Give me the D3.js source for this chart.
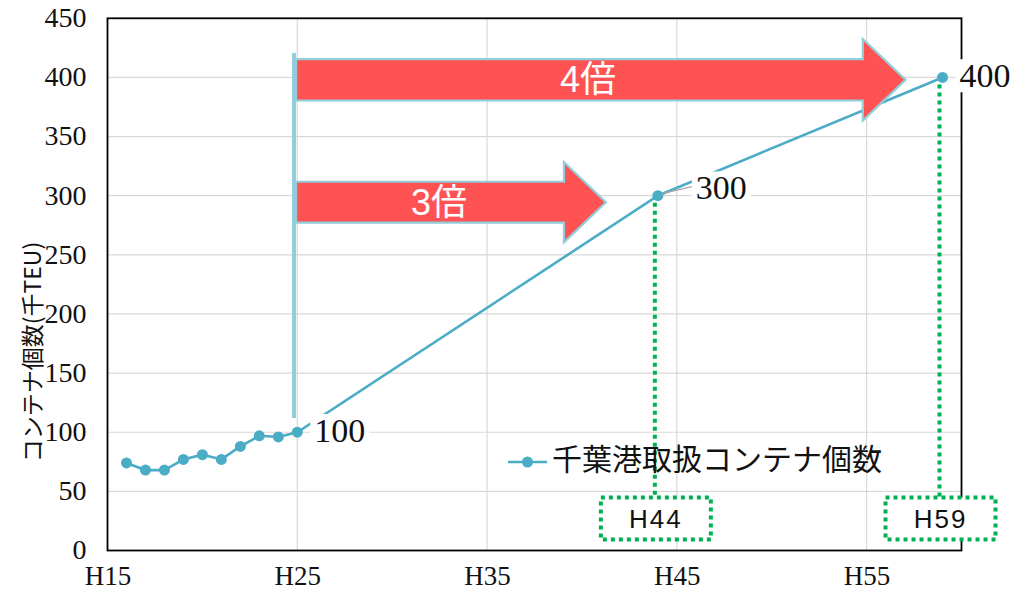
<!DOCTYPE html>
<html><head><meta charset="utf-8">
<script src="https://cdn.jsdelivr.net/npm/d3@7"></script>
<style>body{margin:0;background:#fff}</style>
</head><body>
<svg id="c" width="1031" height="592"></svg>
<script>
// ---- data ----
const years = [16,17,18,19,20,21,22,23,24,25,44,59];
const values = [74,68,68,77,81,77,88,97,96,100,300,400];
const yTicks = [0,50,100,150,200,250,300,350,400,450];
const xTicks = [15,25,35,45,55];
const xTickLabels = ["H15","H25","H35","H45","H55"];
const labelYears = [25,44,59];
const labelTexts = ["100","300","400"];
const seriesName = "千葉港取扱コンテナ個数";
const yTitle = "コンテナ個数(千TEU)";
// annotation arrows (data units)
const arrowX0 = [24.83, 24.83];
const arrowHeadX = [54.8, 39.05];
const arrowTipX = [57.05, 41.26];
const arrowTipY = [398, 294.5];
const arrowBodyHalf = [17.5, 17.3];
const arrowHeadHalf = [34.5, 34.0];
const arrowText = ["4倍","3倍"];
const targetYears = [44,59];
const targetLabels = ["H44","H59"];

const svg = d3.select("#c");
const x = d3.scaleLinear().domain([15,60]).range([107.5,961.5]);
const y = d3.scaleLinear().domain([0,450]).range([550.5,18.3]);
const serif = "'Liberation Serif','Times New Roman',serif";
const jp = "'Noto Sans CJK JP','Noto Sans',sans-serif";
const sans = "'Liberation Sans',Arial,'Noto Sans CJK JP',sans-serif";
const lineColor = "#4bacc6";

// grid
svg.append("g").selectAll("line").data(yTicks.filter(d=>d>0&&d<450)).join("line")
  .attr("x1",x(15)).attr("x2",x(60)).attr("y1",d=>y(d)).attr("y2",d=>y(d))
  .attr("stroke","#d9d9d9").attr("stroke-width",1.2);
svg.append("g").selectAll("line").data(xTicks.filter(d=>d>15)).join("line")
  .attr("x1",d=>x(d)).attr("x2",d=>x(d)).attr("y1",y(0)).attr("y2",y(450))
  .attr("stroke","#d9d9d9").attr("stroke-width",1.2);

// frame
svg.append("rect").attr("x",x(15)).attr("y",y(450)).attr("width",x(60)-x(15)).attr("height",y(0)-y(450))
  .attr("fill","none").attr("stroke","#000").attr("stroke-width",1.8);

// axes labels
const yAxis = d3.axisLeft(y).tickValues(yTicks).tickSize(0).tickPadding(21);
const ga = svg.append("g").attr("transform",`translate(${x(15)},0)`).call(yAxis);
ga.select(".domain").remove();
ga.selectAll("text").attr("font-family",serif).attr("font-size",28).attr("fill","#111").attr("dy","0.3em");
const xAxis = d3.axisBottom(x).tickValues(xTicks).tickFormat((d,i)=>xTickLabels[i]).tickSize(0).tickPadding(15);
const gx = svg.append("g").attr("transform",`translate(0,${y(0)})`).call(xAxis);
gx.select(".domain").remove();
gx.selectAll("text").attr("font-family",serif).attr("font-size",27).attr("fill","#111");

svg.append("text").attr("transform",`translate(35,352) rotate(-90)`)
  .attr("text-anchor","middle").attr("dominant-baseline","middle")
  .attr("font-family",jp).attr("font-size",23).attr("fill","#111").text(yTitle);

// series
const pts = years.map((d,i)=>[d,values[i]]);
svg.append("path").datum(pts).attr("fill","none").attr("stroke",lineColor).attr("stroke-width",2.6)
  .attr("d",d3.line().x(d=>x(d[0])).y(d=>y(d[1])));
svg.append("g").selectAll("circle").data(pts).join("circle")
  .attr("cx",d=>x(d[0])).attr("cy",d=>y(d[1])).attr("r",5.5).attr("fill",lineColor);

// leader line for 300
svg.append("line").attr("x1",x(44)+4).attr("y1",y(300)-2).attr("x2",x(44)+34).attr("y2",y(300)-9)
  .attr("stroke","#a6a6a6").attr("stroke-width",1.2);

// data labels with white background
const labelOffsets = [17, 38, 17];
labelYears.forEach((yr,i)=>{
  const v = values[years.indexOf(yr)];
  const lx = x(yr)+labelOffsets[i], ly = y(v)+2 - (i==1?6:0);
  const g = svg.append("g");
  const t = g.append("text").attr("x",lx).attr("y",ly).attr("dominant-baseline","middle")
    .attr("font-family",serif).attr("font-size",34).attr("fill","#111").text(labelTexts[i]);
  const bb = t.node().getBBox();
  g.insert("rect","text").attr("x",bb.x-4).attr("y",bb.y+2).attr("width",bb.width+8).attr("height",bb.height-4).attr("fill","#fff");
});

// vertical light blue line
svg.append("line").attr("x1",x(24.83)).attr("x2",x(24.83)).attr("y1",53).attr("y2",418)
  .attr("stroke","#92cddc").attr("stroke-width",4);

// arrows
arrowText.forEach((lab,i)=>{
  const x0=x(arrowX0[i]), hx=x(arrowHeadX[i]), tx=x(arrowTipX[i]);
  const cy=y(arrowTipY[i]);
  const bt=y(arrowTipY[i]+arrowBodyHalf[i]), bb=y(arrowTipY[i]-arrowBodyHalf[i]);
  const ht=y(arrowTipY[i]+arrowHeadHalf[i]), hb=y(arrowTipY[i]-arrowHeadHalf[i]);
  const p = [[x0+2,bt],[hx,bt],[hx,ht],[tx,cy],[hx,hb],[hx,bb],[x0+2,bb]];
  svg.append("path").attr("d","M"+p.map(q=>q.join(",")).join("L")+"Z")
    .attr("fill","#ff5353").attr("stroke","#92cddc").attr("stroke-width",2.2).attr("stroke-linejoin","miter");
  svg.append("text").attr("x",i==0?588:439).attr("y",cy+3).attr("text-anchor","middle").attr("dominant-baseline","middle")
    .attr("font-family",sans).attr("font-size",36).attr("fill","#fff").text(lab);
});

// green dotted guides and boxes
targetYears.forEach((yr,i)=>{
  const v = values[years.indexOf(yr)];
  const cx = x(yr)-3;
  svg.append("line").attr("x1",cx).attr("x2",cx).attr("y1",y(v)+7).attr("y2",497)
    .attr("stroke","#00b050").attr("stroke-width",4).attr("stroke-dasharray","4,4");
  const bx = x(yr)-57;
  svg.append("rect").attr("x",bx).attr("y",497.5).attr("width",110).attr("height",42)
    .attr("fill","#fff").attr("stroke","#00b050").attr("stroke-width",4).attr("stroke-dasharray","4,4");
  svg.append("text").attr("x",bx+55).attr("y",521).attr("text-anchor","middle").attr("dominant-baseline","middle")
    .attr("font-family",sans).attr("font-size",26).attr("letter-spacing",2).attr("fill","#111").text(targetLabels[i]);
});

// legend
svg.append("line").attr("x1",508).attr("x2",547).attr("y1",462).attr("y2",462).attr("stroke",lineColor).attr("stroke-width",2.6);
svg.append("circle").attr("cx",527.5).attr("cy",462).attr("r",5.5).attr("fill",lineColor);
svg.append("text").attr("x",552).attr("y",462).attr("dominant-baseline","middle")
  .attr("font-family",jp).attr("font-size",30).attr("fill","#111").text(seriesName);
</script>
</body></html>
